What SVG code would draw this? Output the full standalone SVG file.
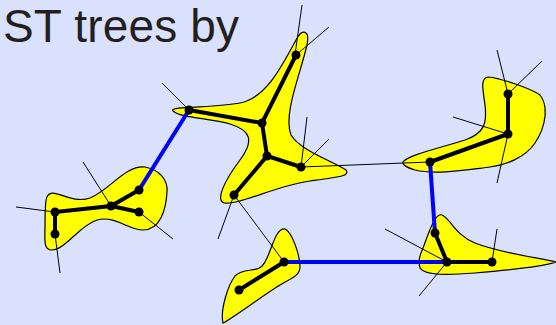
<svg xmlns="http://www.w3.org/2000/svg" width="556" height="325" viewBox="0 0 556 325">
<style>
.blob{fill:#ffff00;stroke:#000;stroke-width:1.2}
.thin{stroke:#000;stroke-width:1;fill:none}
.tree{stroke:#000;stroke-width:4;fill:none;stroke-linecap:round}
.blue{stroke:#0000ff;stroke-width:4;fill:none;stroke-linecap:round}
.nd{fill:#000}
.title{font-family:"Liberation Sans",Arial,sans-serif;font-size:46px;fill:#231f20}
</style>
<rect width="556" height="325" fill="#dae1fc"/>
<text class="title" x="3" y="41.5" textLength="236" lengthAdjust="spacing">ST trees by</text>
<g id="blob-left"><path class="blob" d="M 47,197 C 52,185 70,205 90,198 C 110,190 125,165 145,167 C 160,170 168,180 167,192 C 166,210 160,230 143,230 C 128,230 115,215 97,220 C 80,225 65,250 52,250 C 43,250 45,240 45,225 C 45,210 45,200 47,197 Z"/></g>
<g id="blob-star"><path class="blob" d="M 173,111 C 168,106 215,108 240,103 C 265,98 280,70 296,40 C 302,28 310,30 307,45 C 300,75 283,115 291,135 C 300,150 330,160 346,170 C 350,176 340,177 310,181 C 275,186 240,205 224,203 C 215,200 225,180 240,160 C 255,140 250,130 230,124 C 210,118 180,118 173,111 Z"/></g>
<g id="blob-lower"><path class="blob" d="M 223,323 C 220,310 228,285 235,276 C 245,266 258,275 265,262 C 272,250 275,228 285,229 C 292,232 300,255 300,267 C 300,276 290,279 280,285 C 265,294 230,320 223,323 Z"/></g>
<g id="blob-right-bottom"><path class="blob" d="M 423,248 C 428,235 435,212 442,215 C 450,218 455,235 475,243 C 500,253 540,258 556,262 C 540,267 510,270 475,273 C 450,275 425,276 420,268 C 418,260 420,255 423,248 Z"/></g>
<g id="blob-right-top"><path class="blob" d="M 403,162 C 408,155 440,148 465,140 C 485,133 487,123 485,105 C 483,90 480,78 488,77 C 500,78 530,88 540,95 C 548,105 547,125 535,143 C 525,158 505,165 490,167 C 465,170 435,175 415,170 C 408,168 402,165 403,162 Z"/></g>
<g id="connectors">
<path class="thin" d="M16,207 L55,212 M83,162 L111,206 M173,239 L139,212 M60,273 L55,234"/>
<path class="thin" d="M162,83 L189,110 M302,5 L294,62 M329,27 L296,55 M307,117 L301,167 M329,139 L301,167 M301,167 L430,162 M218,239 L234,195 M234,195 L284,262"/>
<path class="thin" d="M497,50 L508,94 M542,61 L508,94 M453,117 L508,134 M497,183 L508,134"/>
<path class="thin" d="M385,229 L447,262 M419,296 L447,262 M497,229 L492,262"/>
<path class="tree" d="M55,234 L55,212 L111,206 L139,190 M111,206 L139,212"/>
<path class="tree" d="M189,110 L262,123 L296,55 M262,123 L267,156 L301,167 M267,156 L234,195"/>
<path class="tree" d="M239,290 L284,262"/>
<path class="tree" d="M508,94 L508,134 L430,162"/>
<path class="tree" d="M435,233 L447,262 L492,262"/>
<path class="blue" d="M139,190 L189,110 M284,262 L447,262 M430,162 L435,233"/>
</g>
<g id="nodes" class="nd">
<circle cx="55" cy="212" r="4.5"/><circle cx="55" cy="234" r="4.5"/><circle cx="111" cy="206" r="4.5"/><circle cx="139" cy="190" r="4.5"/><circle cx="139" cy="212" r="4.5"/>
<circle cx="189" cy="110" r="4.5"/><circle cx="262" cy="123" r="4.5"/><circle cx="296" cy="55" r="4.5"/><circle cx="267" cy="156" r="4.5"/><circle cx="301" cy="167" r="4.5"/><circle cx="234" cy="195" r="4.5"/>
<circle cx="239" cy="290" r="4.5"/><circle cx="284" cy="262" r="4.5"/>
<circle cx="508" cy="94" r="4.5"/><circle cx="508" cy="134" r="4.5"/><circle cx="430" cy="162" r="4.5"/>
<circle cx="435" cy="233" r="4.5"/><circle cx="447" cy="262" r="4.5"/><circle cx="492" cy="262" r="4.5"/>
</g>
</svg>
